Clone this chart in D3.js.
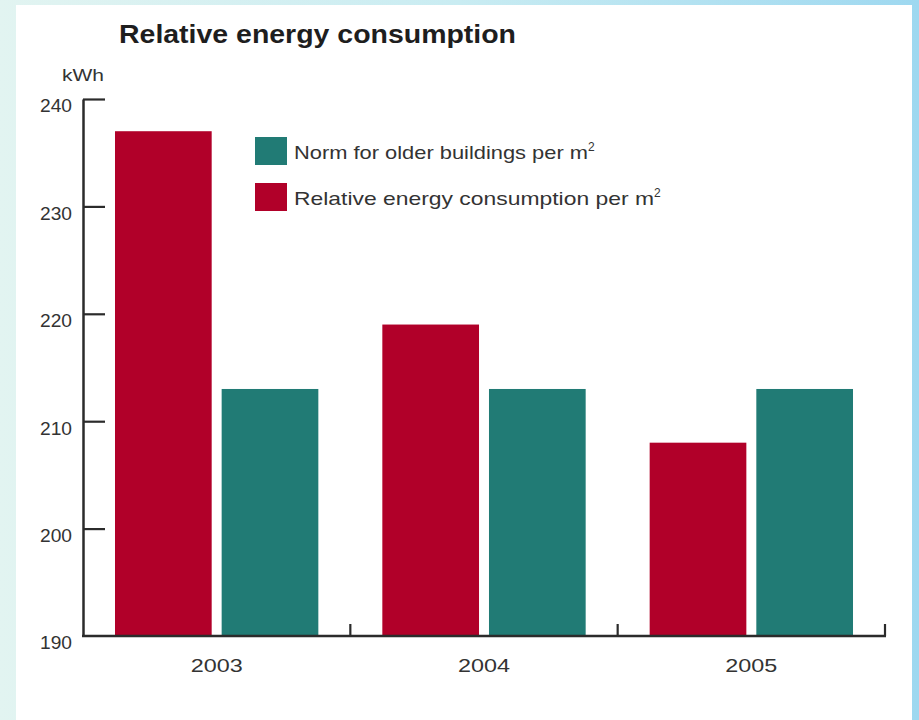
<!DOCTYPE html>
<html>
<head>
<meta charset="utf-8">
<script src="https://cdn.jsdelivr.net/npm/d3@7"></script>
<style>
  html, body { margin: 0; padding: 0; background: #ffffff; }
  svg { display: block; }
  text { font-family: "Liberation Sans", Arial, Helvetica, sans-serif; }
</style>
</head>
<body>
<svg id="chart" width="919" height="720"></svg>
<script>
const years = ["2003", "2004", "2005"];
const seriesNames = ["Relative energy consumption per m", "Norm for older buildings per m"];
const relativeConsumption = [237, 219, 208];
const normOlderBuildings = [213, 213, 213];
const yTicks = [190, 200, 210, 220, 230, 240];
const seriesColors = ["#b10029", "#217b75"];

const svg = d3.select("#chart");
const W = 919, H = 720;

// background texture approximation
const defs = svg.append("defs");
const g1 = defs.append("linearGradient").attr("id", "bg").attr("x1", "0").attr("x2", "1").attr("y1", "0").attr("y2", "0");
g1.append("stop").attr("offset", "0").attr("stop-color", "#e2f4f1");
g1.append("stop").attr("offset", "0.5").attr("stop-color", "#c9ecf2");
g1.append("stop").attr("offset", "1").attr("stop-color", "#9ed8f0");
svg.append("rect").attr("width", W).attr("height", H).attr("fill", "url(#bg)");
svg.append("rect").attr("x", 16).attr("y", 5).attr("width", 896).attr("height", 715).attr("fill", "#ffffff");

const margin = { left: 83, right: 885, top: 99, bottom: 636 };

const x0 = d3.scaleBand().domain(years).range([margin.left, margin.right]).paddingInner(0).paddingOuter(0);
const x1 = d3.scaleBand().domain([0, 1]).range([0, x0.bandwidth()]).paddingInner(0.0935).paddingOuter(0.3);
const y = d3.scaleLinear().domain([190, 240]).range([margin.bottom, margin.top]);

const data = years.map((yr, i) => ({ year: yr, values: [relativeConsumption[i], normOlderBuildings[i]] }));

// bars
const groups = svg.append("g").selectAll("g").data(data).join("g")
  .attr("transform", d => `translate(${x0(d.year)},0)`);
groups.selectAll("rect").data(d => d.values.map((v, k) => ({ k, v }))).join("rect")
  .attr("x", d => x1(d.k))
  .attr("width", x1.bandwidth())
  .attr("y", d => y(d.v))
  .attr("height", d => y(190) - y(d.v))
  .attr("fill", d => seriesColors[d.k]);

// y axis
const yAxis = d3.axisLeft(y).tickValues(yTicks).tickSizeInner(-22).tickSizeOuter(0).tickPadding(11).tickFormat(d3.format("d"));
const gy = svg.append("g").attr("transform", `translate(${margin.left},0)`).call(yAxis);
gy.select(".domain").attr("stroke", "#2b2b2b").attr("stroke-width", 2.5);
gy.selectAll(".tick line").attr("stroke", "#2b2b2b").attr("stroke-width", 2.2);
gy.selectAll(".tick").filter(d => d === 190).select("line").remove();
gy.selectAll(".tick text").attr("font-size", 18).attr("fill", "#333").attr("dy", "0.72em")
  .attr("textLength", 32).attr("lengthAdjust", "spacingAndGlyphs")
  .attr("font-family", "Liberation Sans, Arial, sans-serif");

// kWh unit
svg.append("text").attr("x", 62).attr("y", 81)
  .attr("font-size", 17).attr("fill", "#333")
  .attr("textLength", 42).attr("lengthAdjust", "spacingAndGlyphs").text("kWh");

// x axis
const xAxis = d3.axisBottom(x0).tickSize(0).tickPadding(23);
const gx = svg.append("g").attr("transform", `translate(0,${margin.bottom})`).call(xAxis);
gx.select(".domain").remove();
gx.selectAll(".tick text").attr("font-size", 19).attr("fill", "#333")
  .attr("x", -26).attr("text-anchor", "start")
  .attr("textLength", 52).attr("lengthAdjust", "spacingAndGlyphs")
  .attr("font-family", "Liberation Sans, Arial, sans-serif");
svg.append("line").attr("x1", margin.left - 1).attr("x2", margin.right + 1)
  .attr("y1", y(190)).attr("y2", y(190)).attr("stroke", "#2b2b2b").attr("stroke-width", 2.5);
svg.append("g").selectAll("line").data(years).join("line")
  .attr("x1", d => x0(d) + x0.bandwidth()).attr("x2", d => x0(d) + x0.bandwidth())
  .attr("y1", y(190)).attr("y2", y(190) - 12)
  .attr("stroke", "#2b2b2b").attr("stroke-width", 2.2);

// title
svg.append("text").attr("x", 119).attr("y", 43).attr("font-size", 25).attr("font-weight", "bold")
  .attr("fill", "#1e1e1e").attr("textLength", 397).attr("lengthAdjust", "spacingAndGlyphs")
  .text("Relative energy consumption");

// legend
const legendOrder = [1, 0];
const legendLengths = { 1: 294, 0: 360 };
const leg = svg.append("g").attr("transform", "translate(255,137)");
const li = leg.selectAll("g").data(legendOrder).join("g").attr("transform", (d, i) => `translate(0,${i * 46})`);
li.append("rect").attr("width", 32).attr("height", 28).attr("fill", d => seriesColors[d]);
const lt = li.append("text").attr("x", 39).attr("y", 22).attr("font-size", 19).attr("fill", "#333");
lt.append("tspan").attr("textLength", d => legendLengths[d]).attr("lengthAdjust", "spacingAndGlyphs").text(d => seriesNames[d]);
lt.append("tspan").attr("font-size", 12).attr("dy", -8).text("2");
</script>
</body>
</html>
